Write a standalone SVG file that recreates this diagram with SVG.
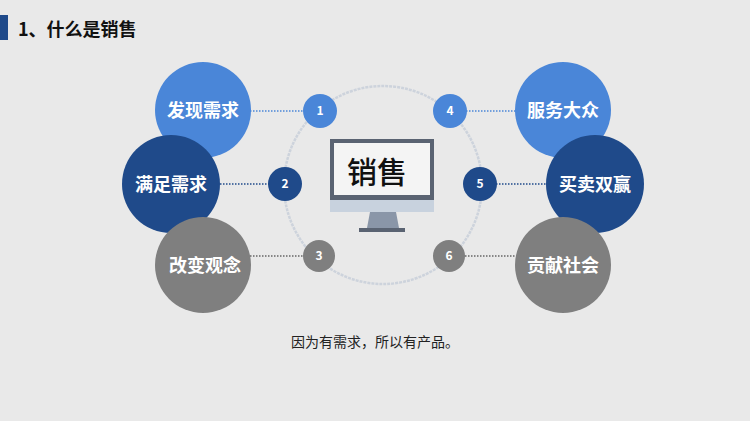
<svg xmlns="http://www.w3.org/2000/svg" width="750" height="421" viewBox="0 0 750 421">
<style>
text{font-family:"Noto Sans CJK SC","Liberation Sans",sans-serif}
.big{fill:#fff;font-size:18px;font-weight:bold;text-anchor:middle}
.num{fill:#fff;font-size:12px;font-weight:bold;text-anchor:middle}
.lb{fill:#4a86d8}.db{fill:#1f4a8a}.gr{fill:#7f7f7f}
.con{stroke-width:1.5;stroke-dasharray:1.5 1.5;fill:none}
</style>
<rect width="750" height="421" fill="#e9e9e9"/>
<rect x="0" y="15" width="8" height="25" fill="#1f4a8a"/>
<text x="18" y="36" font-size="18" font-weight="bold" fill="#111">1、什么是销售</text>
<circle cx="383" cy="185" r="99" fill="none" stroke="#cdd3dc" stroke-width="2.5" stroke-dasharray="3 1"/>
<g id="connectors">
<line class="con" x1="250" y1="111" x2="304" y2="111" stroke="#4a86d8"/>
<line class="con" x1="220" y1="184" x2="269" y2="184" stroke="#1f4a8a"/>
<line class="con" x1="250" y1="256" x2="303" y2="256" stroke="#666"/>
<line class="con" x1="466" y1="111" x2="516" y2="111" stroke="#4a86d8"/>
<line class="con" x1="496" y1="184" x2="546" y2="184" stroke="#1f4a8a"/>
<line class="con" x1="465" y1="256" x2="516" y2="256" stroke="#666"/>
</g>
<g id="n1"><circle cx="203" cy="110" r="48" class="lb"/><text x="203" y="117" class="big">发现需求</text></g>
<g id="n2"><circle cx="171" cy="184" r="49" class="db"/><text x="171" y="191" class="big">满足需求</text></g>
<g id="n3"><circle cx="203" cy="265" r="48" class="gr"/><text x="205" y="272" class="big">改变观念</text></g>
<g id="n4"><circle cx="563" cy="110" r="48" class="lb"/><text x="563" y="117" class="big">服务大众</text></g>
<g id="n5"><circle cx="595" cy="184" r="49" class="db"/><text x="595" y="191" class="big">买卖双赢</text></g>
<g id="n6"><circle cx="563" cy="265" r="48" class="gr"/><text x="563" y="272" class="big">贡献社会</text></g>
<g id="s1"><circle cx="320" cy="111" r="17" class="lb"/><text x="320" y="115" class="num">1</text></g>
<g id="s2"><circle cx="285" cy="184" r="17" class="db"/><text x="285" y="188" class="num">2</text></g>
<g id="s3"><circle cx="319" cy="256" r="16" class="gr"/><text x="319" y="260" class="num">3</text></g>
<g id="s4"><circle cx="450" cy="111" r="17" class="lb"/><text x="450" y="115" class="num">4</text></g>
<g id="s5"><circle cx="480" cy="184" r="17" class="db"/><text x="480" y="188" class="num">5</text></g>
<g id="s6"><circle cx="449" cy="256" r="16" class="gr"/><text x="449" y="260" class="num">6</text></g>
<g id="monitor">
<rect x="330" y="139" width="104" height="66" fill="#5a6372"/>
<rect x="334" y="143" width="96" height="52" fill="#f4f4f4"/>
<rect x="330" y="200" width="104" height="12" fill="#c8d2de"/>
<polygon points="370,212 396,212 399,228 367,228" fill="#8a96a8"/>
<rect x="359" y="228" width="46" height="4" fill="#5a6372"/>
<text x="377" y="183" font-size="30" font-weight="500" fill="#111" text-anchor="middle">销售</text>
</g>
<text x="375" y="347" font-size="14" fill="#222" text-anchor="middle">因为有需求，所以有产品。</text>
</svg>
